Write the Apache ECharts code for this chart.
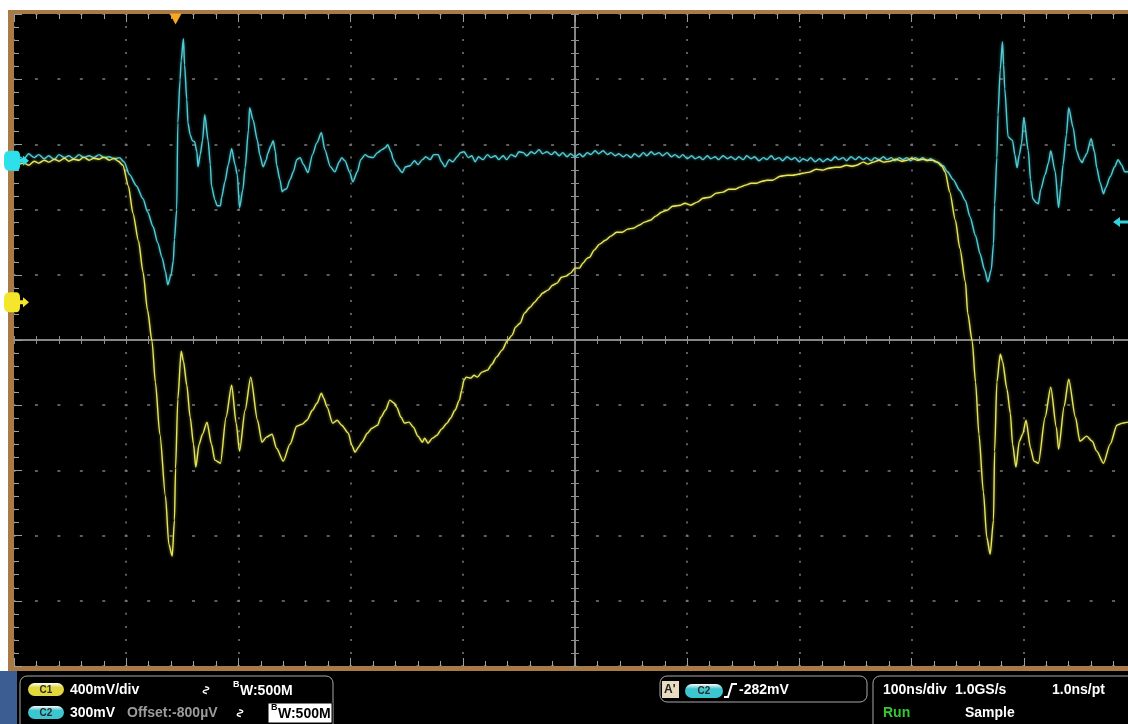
<!DOCTYPE html>
<html>
<head>
<meta charset="utf-8">
<script src="https://cdn.jsdelivr.net/npm/echarts/dist/echarts.min.js"></script>
<style>
  html, body { margin: 0; padding: 0; background: #ffffff; overflow: hidden; }
  #scope { width: 1140px; height: 724px; }
</style>
</head>
<body>
<div id="scope"></div>
<script>
// Acquisition settings (10 x 10 division screen)
const timePerDiv = 100;      // ns/div
const c1Scale = 400;         // mV/div
const c2Scale = 300;         // mV/div
const c1Position = 0.58;     // divisions above screen centre
const c2Position = 2.75;     // divisions above screen centre
const triggerTime = 144;     // ns from left edge of record
const triggerLevel = -282;   // mV on C2

// Channel 1 record: [time ns, mV]
const c1Samples = [
  [0,834],[4,847],[9,853],[13,840],[18,865],[22,853],[27,871],[31,859],[36,877],[40,865],
  [45,883],[49,865],[53,877],[58,871],[62,890],[67,871],[71,883],[76,877],[80,890],[85,871],
  [89,883],[93,865],[97,840],[102,712],[106,546],[111,374],[115,184],[119,-49],[123,-239],[126,-491],
  [130,-810],[135,-1190],[138,-1485],[141,-1558],[143,-1337],[144,-1018],[146,-595],[149,-301],[151,-362],[154,-509],
  [157,-706],[160,-871],[162,-1012],[165,-871],[168,-810],[172,-736],[176,-871],[179,-969],[184,-988],[189,-706],
  [194,-509],[198,-742],[201,-914],[206,-663],[211,-460],[217,-724],[221,-859],[225,-828],[230,-810],[234,-896],
  [240,-975],[246,-871],[252,-761],[257,-748],[261,-724],[266,-663],[270,-620],[274,-558],[276,-589],[279,-644],
  [284,-742],[288,-724],[292,-755],[298,-804],[301,-877],[304,-920],[307,-890],[310,-859],[315,-804],[319,-773],
  [324,-755],[327,-706],[331,-663],[335,-601],[339,-620],[341,-644],[345,-706],[348,-742],[352,-736],[356,-767],
  [360,-822],[364,-859],[366,-834],[369,-865],[373,-834],[377,-816],[381,-779],[386,-742],[389,-712],[393,-663],
  [397,-601],[399,-540],[401,-479],[403,-460],[407,-466],[410,-448],[413,-460],[417,-429],[422,-417],[426,-380],
  [430,-337],[435,-294],[440,-233],[444,-202],[447,-153],[451,-129],[455,-67],[460,-31],[464,0],[468,31],
  [471,55],[476,74],[480,104],[484,117],[488,153],[492,160],[496,178],[500,209],[504,209],[507,239],
  [511,270],[513,276],[517,319],[522,356],[527,380],[532,405],[537,429],[542,429],[547,448],[552,454],
  [557,472],[562,491],[567,503],[572,528],[577,552],[582,564],[587,589],[594,595],[598,607],[603,595],
  [609,614],[614,638],[620,644],[626,669],[632,675],[637,693],[643,693],[647,706],[652,718],[657,730],
  [662,730],[667,742],[671,748],[676,748],[683,773],[689,779],[694,779],[699,785],[703,791],[709,798],
  [715,816],[721,810],[726,822],[732,828],[736,828],[742,840],[747,834],[751,840],[757,859],[761,847],
  [766,859],[771,871],[775,859],[781,865],[786,877],[791,865],[796,871],[800,883],[805,871],[810,877],
  [814,871],[819,871],[823,859],[827,834],[830,798],[834,675],[839,503],[843,331],[848,123],[850,-67],
  [854,-239],[857,-491],[860,-810],[864,-1166],[867,-1442],[870,-1546],[873,-1337],[874,-914],[876,-491],[879,-319],
  [881,-362],[885,-534],[888,-681],[890,-871],[893,-1012],[896,-853],[899,-810],[902,-724],[906,-896],[909,-975],
  [913,-988],[919,-706],[924,-521],[929,-767],[931,-902],[936,-638],[940,-472],[946,-706],[950,-853],[956,-822],
  [961,-853],[965,-914],[971,-988],[977,-871],[983,-755],[988,-742],[993,-736],[998,-730]
];

// Channel 2 record: [time ns, mV]
const c2Samples = [
  [0,5],[4,18],[9,9],[13,32],[18,14],[22,28],[27,9],[31,23],[36,5],[40,28],
  [45,14],[49,23],[53,9],[58,28],[62,14],[67,23],[71,14],[76,28],[80,14],[85,18],
  [89,9],[94,14],[98,-5],[103,-64],[109,-115],[115,-175],[119,-235],[124,-304],[128,-377],[132,-446],
  [135,-511],[137,-571],[140,-525],[142,-460],[143,-363],[145,-225],[146,175],[148,373],[149,460],[151,561],
  [152,442],[154,281],[155,175],[157,120],[159,92],[161,87],[163,41],[164,-28],[166,28],[168,92],
  [170,212],[173,92],[175,-18],[176,-115],[179,-179],[181,-207],[184,-207],[185,-170],[188,-97],[191,-18],
  [194,55],[197,-18],[199,-64],[201,-216],[204,-133],[206,-32],[209,143],[210,244],[213,189],[217,92],
  [219,28],[222,-28],[225,5],[226,32],[229,69],[231,92],[233,41],[234,-18],[237,-87],[239,-143],
  [241,-133],[243,-129],[246,-87],[249,-51],[252,5],[255,14],[258,-18],[262,-55],[266,28],[270,83],
  [274,129],[277,51],[282,-28],[286,-51],[290,-5],[292,14],[295,0],[299,-51],[302,-97],[306,-51],
  [309,5],[313,28],[316,18],[320,14],[324,37],[328,51],[331,60],[333,74],[336,41],[338,5],
  [341,-23],[346,-55],[349,-28],[353,-23],[357,0],[360,-18],[364,5],[367,18],[371,5],[374,28],
  [378,28],[381,-5],[384,-28],[388,5],[391,-5],[395,18],[398,37],[401,41],[405,14],[408,23],
  [411,-5],[414,18],[418,5],[422,28],[425,14],[429,23],[432,5],[436,23],[439,5],[443,28],
  [447,18],[450,41],[454,37],[457,23],[461,41],[464,32],[468,51],[471,32],[475,41],[479,28],
  [482,41],[486,23],[489,37],[493,18],[496,32],[500,18],[504,32],[507,18],[511,37],[514,28],
  [518,46],[521,32],[525,46],[529,28],[532,37],[536,23],[539,32],[543,18],[546,28],[550,14],
  [553,32],[557,18],[561,37],[564,23],[568,41],[571,28],[575,37],[578,23],[582,37],[586,18],
  [589,28],[593,14],[596,28],[600,9],[604,23],[607,9],[611,18],[614,5],[618,23],[621,9],
  [625,18],[628,5],[632,23],[636,9],[639,18],[643,5],[646,18],[650,5],[653,23],[657,9],
  [660,18],[664,0],[668,14],[671,5],[675,23],[678,5],[682,14],[685,0],[689,18],[693,5],
  [696,14],[700,-5],[703,9],[707,0],[710,14],[714,-5],[718,9],[721,-5],[725,9],[728,0],
  [732,18],[735,5],[739,14],[742,0],[746,18],[750,5],[753,18],[757,5],[760,14],[764,0],
  [767,14],[771,5],[775,18],[778,5],[782,14],[785,0],[789,14],[792,5],[796,14],[799,0],
  [803,14],[807,5],[810,14],[814,0],[817,9],[821,-5],[824,-9],[828,-23],[832,-51],[837,-87],
  [843,-138],[848,-184],[852,-258],[857,-345],[861,-428],[865,-502],[868,-557],[871,-502],[873,-382],[874,-202],
  [876,14],[877,212],[879,419],[881,548],[882,442],[883,331],[886,110],[889,97],[890,92],[892,28],
  [894,-32],[896,28],[898,78],[900,198],[904,46],[906,-87],[908,-175],[911,-193],[913,-198],[915,-133],
  [919,-64],[922,-9],[924,46],[928,-51],[931,-216],[933,-124],[935,-18],[938,120],[940,244],[944,152],
  [947,46],[950,5],[952,-9],[954,14],[956,32],[960,101],[963,41],[965,-32],[968,-101],[971,-152],
  [973,-124],[977,-74],[981,-28],[984,5],[987,-18],[990,-51],[993,-51],[998,-46]
];

// Readout texts
const c1Readout = '400mV/div';
const c2Readout = '300mV';
const c2Offset = 'Offset:-800µV';
const bwReadout = 'W:500M';
const triggerReadout = '-282mV';
const horizReadout = ['100ns/div', '1.0GS/s', '1.0ns/pt'];
const modeReadout = ['Run', 'Sample'];

const yellow = '#e6e65c';
const cyan = '#52cad4';
const dotColor = '#7c7c7c';
const tickColor = '#a0a0a0';
const centreColor = '#8e8e8e';
const frameColor = '#a97a45';
const font = '"Liberation Sans", Arial, sans-serif';

const chart = echarts.init(document.getElementById('scope'));

// Screen-division axes that carry the graticule
function borderAxis(pos, extra) {
  return Object.assign({
    type: 'value', min: -5, max: 5, interval: 1, position: pos,
    axisLine: { show: false, onZero: false },
    axisTick: { show: true, inside: true, length: 8, lineStyle: { color: tickColor, width: 1 } },
    minorTick: { show: true, splitNumber: 5, length: 5, lineStyle: { color: tickColor, width: 1 } },
    axisLabel: { show: false },
    splitLine: { show: false }
  }, extra || {});
}
function centreAxis(pos, inside) {
  return {
    type: 'value', min: -5, max: 5, interval: 1, position: pos,
    axisLine: { show: true, onZero: true, onZeroAxisIndex: 0, lineStyle: { color: centreColor, width: 1.5 } },
    axisTick: { show: true, inside: inside, length: 4, lineStyle: { color: centreColor, width: 1 } },
    minorTick: { show: true, splitNumber: 5, length: 4, lineStyle: { color: centreColor, width: 1 } },
    axisLabel: { show: false },
    splitLine: { show: false }
  };
}

const gridH = 652, gridW = 1122;

const xAxes = [
  borderAxis('bottom', { splitLine: { show: true, lineStyle: { color: dotColor, width: 1.5, type: [2, gridH / 50 - 2], dashOffset: 1 } } }),
  borderAxis('top'),
  centreAxis('bottom', true),
  centreAxis('bottom', false),
  { type: 'value', min: 0, max: 10 * timePerDiv, show: false }
];
const yAxes = [
  borderAxis('left', { splitLine: { show: true, lineStyle: { color: dotColor, width: 1.5, type: [3, gridW / 50 - 3], dashOffset: 1.5 } } }),
  centreAxis('left', true),
  centreAxis('left', false),
  { type: 'value', min: (-5 - c1Position) * c1Scale, max: (5 - c1Position) * c1Scale, show: false },
  { type: 'value', min: (-5 - c2Position) * c2Scale, max: (5 - c2Position) * c2Scale, show: false }
];

const markerPath = 'path://M6,0 L12,0 Q16,0 16,5 L16,8 L19,8 L19,5 L25,10 L19,15 L19,12 L16,12 L16,15 Q16,20 12,20 L6,20 Q0,20 0,14 L0,6 Q0,0 6,0 Z';
const arrowLeft = 'path://M0,5 L7,0 L7,3.5 L16,3.5 L16,6.5 L7,6.5 L7,10 Z';

function txt(x, y, text, opts) {
  return {
    type: 'text', x: x, y: y, z: 20,
    style: Object.assign({ text: text, fill: '#ffffff', font: 'bold 14px ' + font, verticalAlign: 'middle', align: 'left' }, opts || {})
  };
}
function pill(x, y, w, h, color, label) {
  return [
    { type: 'rect', z: 20, shape: { x: x, y: y, width: w, height: h, r: h / 2 },
      style: { fill: new echarts.graphic.LinearGradient(0, 0, 0, 1, [{ offset: 0, color: '#ffffff' }, { offset: 0.35, color: color }, { offset: 1, color: color }]) } },
    { type: 'text', z: 21, x: x + w / 2, y: y + h / 2 + 0.5,
      style: { text: label, fill: '#2a2a2a', font: 'bold 10px ' + font, align: 'center', verticalAlign: 'middle' } }
  ];
}
function panel(x, y, w, h) {
  return { type: 'rect', z: 15, shape: { x: x, y: y, width: w, height: h, r: 7 },
           style: { fill: '#000000', stroke: '#a8a8a8', lineWidth: 1 } };
}

const graphics = [
  // instrument frame around the graticule
  { type: 'rect', z: 0, shape: { x: 8, y: 10, width: 1132, height: 4 }, style: { fill: frameColor } },
  { type: 'rect', z: 0, shape: { x: 8, y: 10, width: 6, height: 661 }, style: { fill: frameColor } },
  { type: 'rect', z: 0, shape: { x: 8, y: 666, width: 1132, height: 5 }, style: { fill: frameColor } },
  // readout bar
  { type: 'rect', z: 10, shape: { x: 0, y: 671, width: 1140, height: 53 }, style: { fill: '#000000' } },
  { type: 'rect', z: 11, shape: { x: 0, y: 671, width: 17, height: 53 }, style: { fill: '#3b5d92' } },
  panel(20, 676, 313, 60),
  panel(660, 676, 207, 26),
  panel(873, 676, 270, 60),
  ...pill(28, 683, 36, 13, '#e0d83c', 'C1'),
  ...pill(28, 706, 36, 13, '#3cc6d0', 'C2'),
  txt(70, 690, c1Readout),
  txt(70, 713, c2Readout),
  txt(127, 713, c2Offset, { fill: '#9c9c9c' }),
  { type: 'text', z: 20, x: 207, y: 690, rotation: Math.PI / 2, style: { text: '∿', fill: '#ffffff', font: 'bold 13px "DejaVu Sans"', align: 'center', verticalAlign: 'middle' } },
  { type: 'text', z: 20, x: 241, y: 713, rotation: Math.PI / 2, style: { text: '∿', fill: '#ffffff', font: 'bold 13px "DejaVu Sans"', align: 'center', verticalAlign: 'middle' } },
  txt(233, 685, 'B', { font: 'bold 9px ' + font }),
  txt(240, 691, bwReadout),
  { type: 'rect', z: 19, shape: { x: 268, y: 703, width: 64, height: 20 }, style: { fill: '#ffffff', stroke: '#000000', lineWidth: 1 } },
  txt(271, 708, 'B', { font: 'bold 9px ' + font, fill: '#000000' }),
  txt(278, 714, bwReadout, { fill: '#000000' }),
  // trigger readout
  { type: 'rect', z: 20, shape: { x: 662, y: 681, width: 17, height: 17 }, style: { fill: '#e9dcc0' } },
  txt(664, 690, "A'", { fill: '#222222', font: 'bold 12px ' + font }),
  ...pill(685, 684, 38, 14, '#3cc6d0', 'C2'),
  { type: 'polyline', z: 20, shape: { points: [[724, 697], [728, 697], [732, 684], [737, 684]] }, style: { stroke: '#ffffff', lineWidth: 2, fill: null } },
  txt(739, 690, triggerReadout),
  // horizontal / acquisition readout
  txt(883, 690, horizReadout[0]),
  txt(955, 690, horizReadout[1]),
  txt(1052, 690, horizReadout[2]),
  txt(883, 713, modeReadout[0], { fill: '#35c835' }),
  txt(965, 713, modeReadout[1])
];

chart.setOption({
  animation: false,
  backgroundColor: '#ffffff',
  grid: { left: 14, top: 14, width: gridW, height: gridH, show: true, backgroundColor: '#000000', borderWidth: 0 },
  xAxis: xAxes,
  yAxis: yAxes,
  graphic: graphics,
  series: [
    {
      name: 'C2', type: 'line', xAxisIndex: 4, yAxisIndex: 4, data: c2Samples,
      showSymbol: false, silent: true, z: 4, smooth: 0.25, smoothMonotone: 'x',
      lineStyle: { color: cyan, width: 1.4, shadowBlur: 3, shadowColor: 'rgba(82,202,212,0.6)' }
    },
    {
      name: 'C1', type: 'line', xAxisIndex: 4, yAxisIndex: 3, data: c1Samples,
      showSymbol: false, silent: true, z: 5, smooth: 0.25, smoothMonotone: 'x',
      lineStyle: { color: yellow, width: 1.4, shadowBlur: 3, shadowColor: 'rgba(230,230,92,0.6)' }
    },
    {
      name: 'C1 ground', type: 'scatter', xAxisIndex: 4, yAxisIndex: 3, data: [[0, 0]], clip: false, silent: true, z: 8,
      symbol: markerPath, symbolSize: [25, 20], symbolOffset: [2.5, 0], itemStyle: { color: '#f4e62a', opacity: 1 }
    },
    {
      name: 'C2 ground', type: 'scatter', xAxisIndex: 4, yAxisIndex: 4, data: [[0, 0]], clip: false, silent: true, z: 8,
      symbol: markerPath, symbolSize: [25, 20], symbolOffset: [2.5, 0], itemStyle: { color: '#2ee0ea', opacity: 1 }
    },
    {
      name: 'Trigger level', type: 'scatter', xAxisIndex: 4, yAxisIndex: 4, data: [[10 * timePerDiv, triggerLevel]], clip: false, silent: true, z: 8,
      symbol: arrowLeft, symbolSize: [16, 10], symbolOffset: [-15, 0], itemStyle: { color: '#33d3dd', opacity: 1 }
    },
    {
      name: 'Trigger position', type: 'scatter', xAxisIndex: 4, yAxisIndex: 0, data: [[triggerTime, 5]], clip: false, silent: true, z: 8,
      symbol: 'triangle', symbolRotate: 180, symbolSize: [12, 11], symbolOffset: [0, 5], itemStyle: { color: '#f7a823', opacity: 1 }
    }
  ]
});
</script>
</body>
</html>
